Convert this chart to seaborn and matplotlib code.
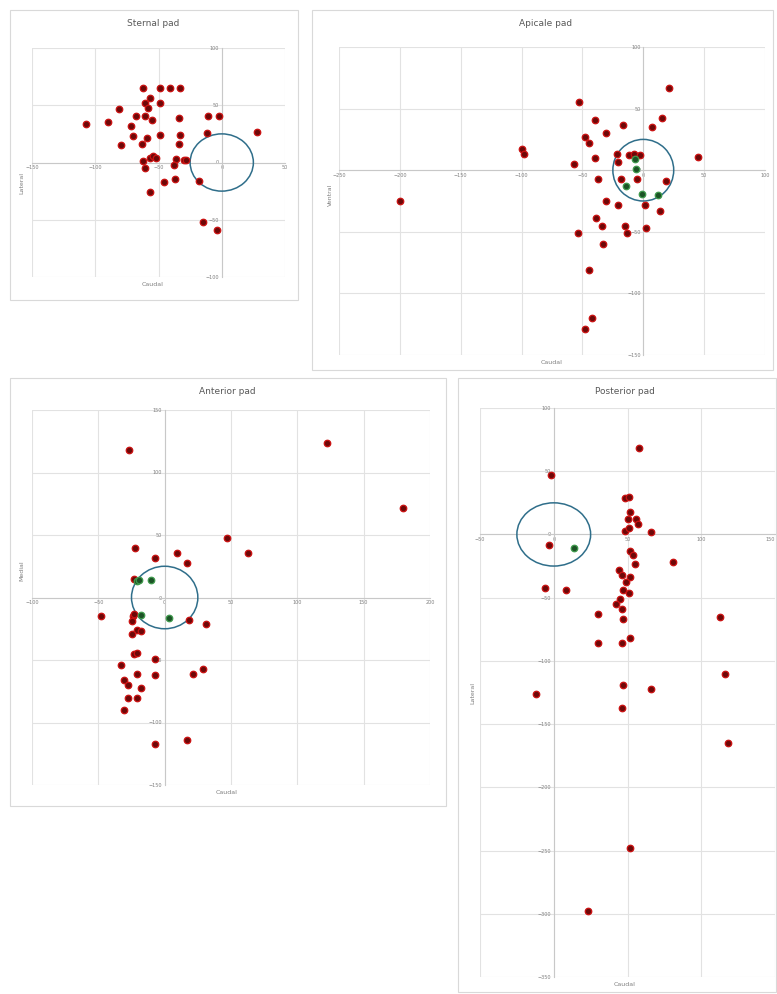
import numpy as np
import matplotlib
matplotlib.use("Agg")
import matplotlib.pyplot as plt
from matplotlib.patches import Circle, Rectangle
import seaborn as sns

# Sternal pad
sternal_x = [-62, -49, -41, -33, -57, -61, -58, -49, -81, -68, -61, -55, -34, -11, -2, 28,
             -107, -90, -72, -70, -59, -49, -33, -12, -80, -63, -34, -57, -54, -52, -62, -36,
             -38, -30, -28, -61, -46, -37, -18, -57, -15, -4]
sternal_y = [65, 65, 65, 65, 56, 52, 48, 52, 47, 41, 41, 37, 39, 41, 41, 27,
             34, 35, 32, 23, 21, 24, 24, 26, 15, 16, 16, 4, 6, 4, 1, 3,
             -2, 2, 2, -5, -17, -14, -16, -26, -52, -59]

# Apicale pad
apicale_x = [21, -53, -40, 15, -17, 7, -31, -48, -45, -100, -98, -22, -12, -8, -3, -40,
             -21, 45, -57, -37, -18, -5, 19, -31, -21, 1, 14, -39, -34, -15, -13, 2,
             -54, -33, -45, -42, -48, -200]
apicale_y = [67, 55, 41, 42, 37, 35, 30, 27, 22, 17, 13, 13, 12, 13, 12, 10,
             7, 11, 5, -7, -7, -7, -9, -25, -28, -28, -33, -39, -45, -45, -51, -47,
             -51, -60, -81, -120, -129, -25]
apicale_green_x = [-7, -6, -14, -1, 12]
apicale_green_y = [9, 1, -13, -19, -20]

# Anterior pad
anterior_x = [-27, 122, 180, 47, 63, -22, -7, 9, 17, -23, -48, -24, -23, -25, -21, -18,
              -25, 18, 31, -23, -21, -7, -33, -21, -7, 21, 29, -31, -28, -18, -28, -21,
              -31, 17, -7]
anterior_y = [118, 124, 72, 48, 36, 40, 32, 36, 28, 15, -15, -15, -13, -19, -26, -27,
              -29, -18, -21, -45, -44, -49, -54, -61, -62, -61, -57, -66, -70, -72, -80, -80,
              -90, -114, -117]
anterior_green_x = [-21, -19, -10, -18, 3]
anterior_green_y = [13, 14, 14, -14, -16]

# Posterior pad
posterior_x = [58, -2, 48, 51, 52, 50, 56, 57, 48, 51, 66, -3, 52, 54, 55, 81,
               44, 46, 52, 49, -6, 8, 47, 51, 45, 42, 46, 47, 30, 113, 30, 46,
               52, 116, -12, 47, 66, 46, 118, 52, 23]
posterior_y = [68, 47, 29, 30, 18, 12, 12, 8, 3, 5, 2, -8, -13, -16, -23, -22,
               -28, -32, -34, -38, -42, -44, -44, -46, -51, -55, -59, -67, -63, -65, -86, -86,
               -82, -110, -126, -119, -122, -137, -165, -248, -298]
posterior_green_x = [14]
posterior_green_y = [-11]

W, H = 777, 994
RED_FACE, RED_EDGE = "#6e0808", "#cc1212"
GREEN_FACE, GREEN_EDGE = "#1c5326", "#3f9a4c"
GRID = "#e2e2e2"
TXT = "#7f7f7f"

sns.set_style("white")
fig = plt.figure(figsize=(W / 100, H / 100), dpi=100)


def box(x0, y0, x1, y1):
    fig.add_artist(Rectangle((x0 / W, 1 - y1 / H), (x1 - x0) / W, (y1 - y0) / H,
                             transform=fig.transFigure, fill=False, ec="#d9d9d9", lw=0.8))


def panel(area, xlim, ylim, xs, ys, gx=None, gy=None):
    x0, y0, x1, y1 = area
    ax = fig.add_axes([x0 / W, 1 - y1 / H, (x1 - x0) / W, (y1 - y0) / H])
    ax.set_xlim(*xlim)
    ax.set_ylim(*ylim)
    ax.set_xticks(np.arange(xlim[0], xlim[1] + 1, 50))
    ax.set_yticks(np.arange(ylim[0], ylim[1] + 1, 50))
    ax.grid(True, color=GRID, lw=0.8)
    ax.set_axisbelow(True)
    for s in ["top", "right"]:
        ax.spines[s].set_visible(False)
    for s in ["left", "bottom"]:
        ax.spines[s].set_position(("data", 0))
        ax.spines[s].set_color("#c8c8c8")
        ax.spines[s].set_linewidth(0.8)
    ax.tick_params(length=0, labelsize=3.5, labelcolor=TXT, pad=2)
    ax.add_patch(Circle((0, 0), 25, fill=False, ec="#2f6e8a", lw=1.1, zorder=4))
    sns.scatterplot(x=xs, y=ys, ax=ax, color=RED_FACE, edgecolor=RED_EDGE,
                    linewidth=0.9, s=22, zorder=5, clip_on=False)
    if gx is not None:
        sns.scatterplot(x=gx, y=gy, ax=ax, color=GREEN_FACE, edgecolor=GREEN_EDGE,
                        linewidth=0.9, s=22, zorder=6, clip_on=False)
    ax.set_xlabel("")
    ax.set_ylabel("")
    return ax


# Sternal pad
box(10, 10, 298, 300)
panel((32, 48, 285, 277), (-150, 50), (-100, 100), sternal_x, sternal_y)
fig.text(153 / W, 1 - 24 / H, "Sternal pad", ha="center", va="center", fontsize=6.5, color="#595959")
fig.text(153 / W, 1 - 285 / H, "Caudal", ha="center", va="center", fontsize=4.5, color=TXT)
fig.text(22 / W, 1 - 183 / H, "Lateral", ha="center", va="center", fontsize=4.5, color=TXT, rotation=90)

# Apicale pad
box(312, 10, 773, 370)
panel((339, 47, 765, 355), (-250, 100), (-150, 100),
      apicale_x, apicale_y, apicale_green_x, apicale_green_y)
fig.text(546 / W, 1 - 24 / H, "Apicale pad", ha="center", va="center", fontsize=6.5, color="#595959")
fig.text(552 / W, 1 - 362 / H, "Caudal", ha="center", va="center", fontsize=4.5, color=TXT)
fig.text(330 / W, 1 - 195 / H, "Ventral", ha="center", va="center", fontsize=4.5, color=TXT, rotation=90)

# Anterior pad
box(10, 378, 446, 806)
panel((32, 410, 430, 785), (-100, 200), (-150, 150),
      anterior_x, anterior_y, anterior_green_x, anterior_green_y)
fig.text(227 / W, 1 - 392 / H, "Anterior pad", ha="center", va="center", fontsize=6.5, color="#595959")
fig.text(227 / W, 1 - 792 / H, "Caudal", ha="center", va="center", fontsize=4.5, color=TXT)
fig.text(22 / W, 1 - 571 / H, "Medial", ha="center", va="center", fontsize=4.5, color=TXT, rotation=90)

# Posterior pad
box(458, 378, 776, 992)
ax_p = panel((480, 408, 775, 977), (-50, 150), (-350, 100),
             posterior_x, posterior_y, posterior_green_x, posterior_green_y)
ax_p.get_xticklabels()[-1].set_horizontalalignment("right")
fig.text(625 / W, 1 - 391 / H, "Posterior pad", ha="center", va="center", fontsize=6.5, color="#595959")
fig.text(625 / W, 1 - 985 / H, "Caudal", ha="center", va="center", fontsize=4.5, color=TXT)
fig.text(473 / W, 1 - 693 / H, "Lateral", ha="center", va="center", fontsize=4.5, color=TXT, rotation=90)

fig.savefig("out.png", dpi=100, facecolor="white")
